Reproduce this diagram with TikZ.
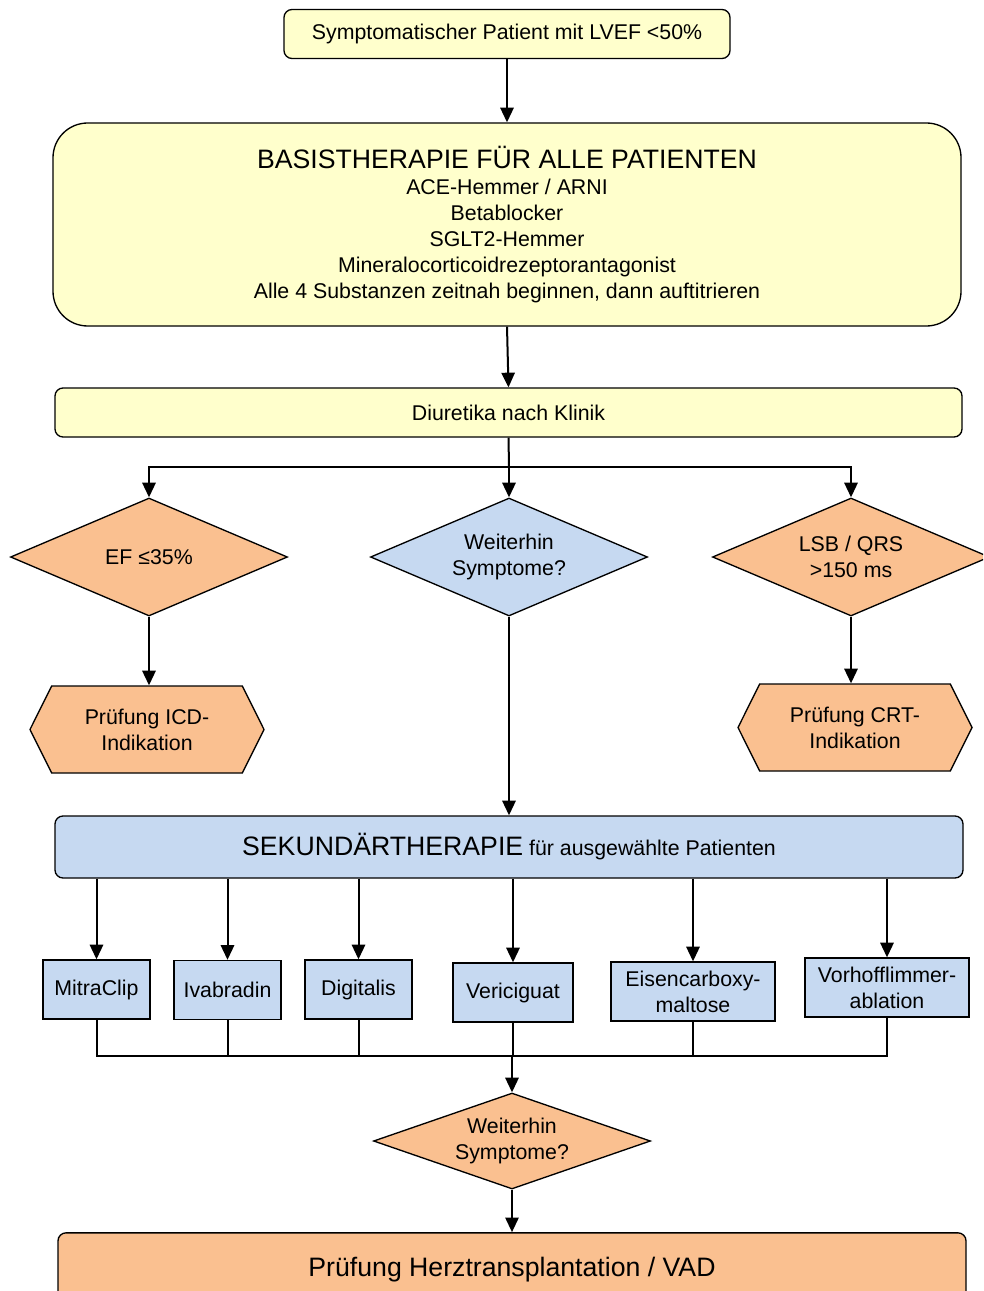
\documentclass[tikz,border=0pt]{standalone}
\usepackage{fontspec}
\setmainfont{Liberation Sans}
\usetikzlibrary{arrows.meta,shapes.geometric,shapes.symbols}
\definecolor{Cream}{HTML}{FFFFCC}
\definecolor{Ice}{HTML}{C6D9F1}
\definecolor{Peach}{HTML}{FAC090}

\begin{document}
\begin{tikzpicture}[
      x=0.75pt, y=-0.75pt,
      >={Triangle[length=11pt,width=10pt]},
      flow/.style={->, line width=1.5pt},
      box/.style={draw=black, line width=1pt, rounded corners=6pt, fill=Cream,
                  align=center, font=\fontsize{16}{19.5}\selectfont, inner sep=0pt},
      choice/.style={diamond, draw=black, line width=1pt, aspect=2.35, inner sep=0pt,
                  align=center, font=\fontsize{16}{19.5}\selectfont},
      check/.style={signal, signal to=west and east, signal pointer angle=127,
                  draw=black, line width=1pt, fill=Peach, inner sep=0pt,
                  align=center, font=\fontsize{16}{19.5}\selectfont},
      drug/.style={draw=black, line width=1pt, fill=Ice, inner sep=0pt,
                  align=center, font=\fontsize{16}{19.5}\selectfont,
                  minimum height=44.25pt}
    ]
      \useasboundingbox (0,0) rectangle (983,1291);
      \clip (0,0) rectangle (983,1291);
      % Basis
      \node[box, minimum width=334.5pt, minimum height=36.75pt] (start) at (507,34)
        {Symptomatischer Patient mit LVEF <50\%};
      \node[box, rounded corners=26pt, minimum width=681pt, minimum height=152.25pt] (basis) at (507,224.5)
        {{\fontsize{20}{24}\selectfont BASISTHERAPIE FÜR ALLE PATIENTEN}\\
         ACE-Hemmer / ARNI\\ Betablocker\\ SGLT2-Hemmer\\
         Mineralocorticoidrezeptorantagonist\\
         Alle 4 Substanzen zeitnah beginnen, dann auftitrieren};
      \node[box, minimum width=680.25pt, minimum height=36.75pt] (diur) at (508.5,412.5)
        {Diuretika nach Klinik};
      % Verzweigung
      \node[choice, fill=Peach, minimum width=207.75pt, minimum height=88.5pt] (ef) at (149,557)
        {EF ≤35\%};
      \node[choice, fill=Ice, minimum width=207.75pt, minimum height=88.5pt] (sym) at (509,557)
        {Weiterhin\\Symptome?};
      \node[choice, fill=Peach, minimum width=207.75pt, minimum height=88.5pt] (qrs) at (851,557)
        {LSB / QRS\\>150 ms};
      \node[check, minimum width=175.5pt, minimum height=65.25pt] (icd) at (147,729.5)
        {Prüfung ICD-\\Indikation};
      \node[check, minimum width=175.5pt, minimum height=65.25pt] (crt) at (855,727.5)
        {Prüfung CRT-\\Indikation};
      % Sekundaer
      \node[box, fill=Ice, minimum width=681pt, minimum height=46.5pt] (sek) at (509,847)
        {{\fontsize{20}{24}\selectfont SEKUNDÄRTHERAPIE} für ausgewählte Patienten};
      \node[drug, minimum width=80.25pt] (mitra) at (96.5,989.5) {MitraClip};
      \node[drug, minimum width=80.25pt] (ivab) at (227.5,990) {Ivabradin};
      \node[drug, minimum width=80.25pt] (digi) at (358.5,989.5) {Digitalis};
      \node[drug, minimum width=90pt] (veri) at (513,992.5) {Vericiguat};
      \node[drug, minimum width=123pt] (eisen) at (693,991.5) {Eisencarboxy-\\maltose};
      \node[drug, minimum width=123pt] (vhf) at (887,987.5) {Vorhofflimmer-\\ablation};
      \node[choice, fill=Peach, minimum width=207.75pt, minimum height=72pt] (sym2) at (512,1141)
        {Weiterhin\\Symptome?};
      \node[box, fill=Peach, minimum width=681pt, minimum height=55pt] (htx) at (512,1269.5)
        {\fontsize{20}{24}\selectfont Prüfung Herztransplantation / VAD};
      \coordinate (split) at (509,467);
      \coordinate (join) at (512,1056);
      % Pfeile
      \draw[flow] (start) -- (basis);
      \draw[flow] (basis.south) -- (diur.north);
      \draw[line width=1.5pt] (diur.south) -- (split);
      \draw[flow] (split) -| (ef.north);
      \draw[flow] (split) -| (qrs.north);
      \draw[flow] (split) -- (sym.north);
      \draw[flow] (ef) -- (icd.north -| ef.south);
      \draw[flow] (qrs) -- (crt.north -| qrs.south);
      \draw[flow] (sym) -- (sek.north -| sym.south);
      \foreach \m in {mitra,ivab,digi,veri,eisen,vhf} {
        \draw[flow] (sek.south -| \m.north) -- (\m.north);
        \draw[line width=1.5pt] (\m.south) |- (join);
      }
      \draw[flow] (join) -- (sym2.north);
      \draw[flow] (sym2) -- (htx);
    \end{tikzpicture}
\end{document}
